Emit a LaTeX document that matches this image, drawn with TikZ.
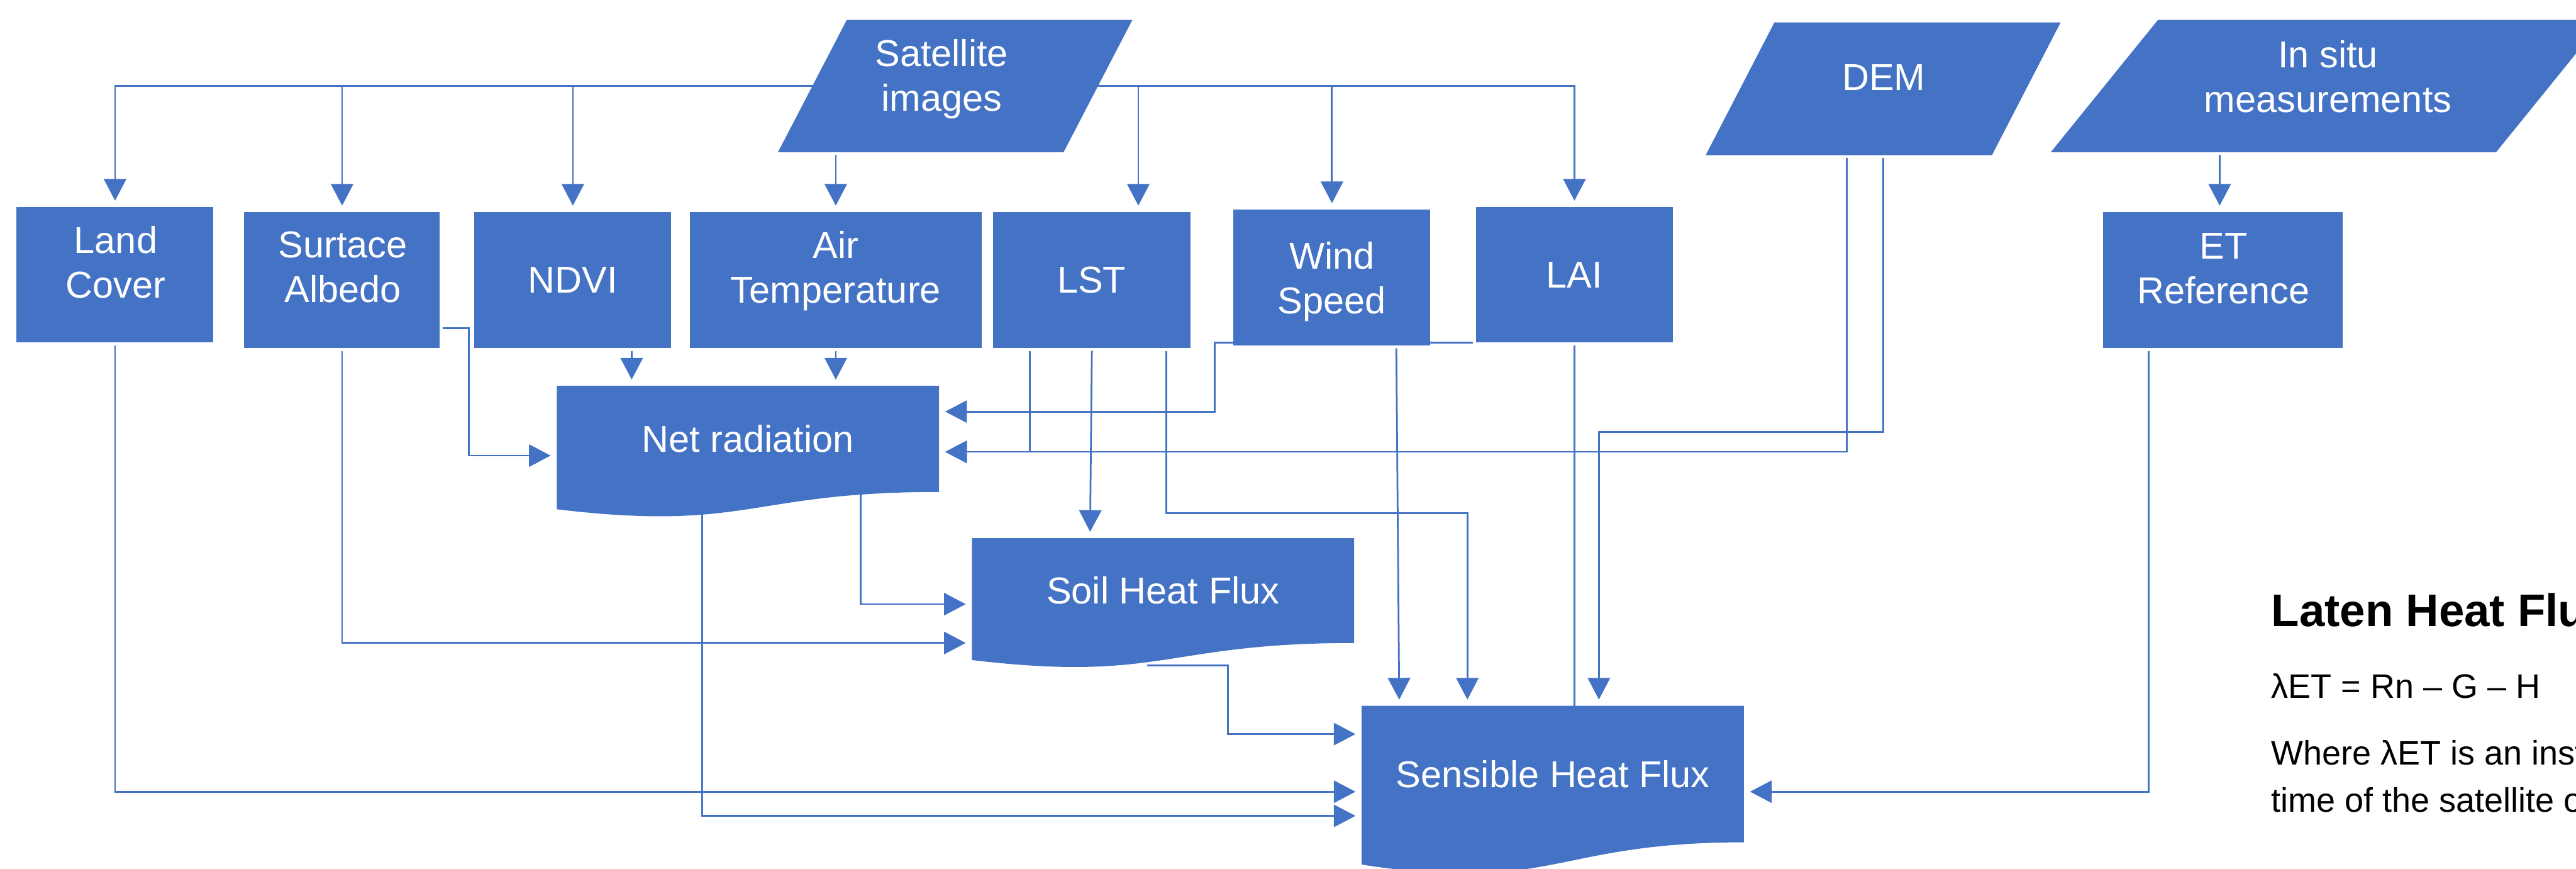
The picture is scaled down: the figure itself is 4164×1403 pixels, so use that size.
\documentclass[tikz,border=0pt]{standalone}
\usepackage{fontspec}
\setmainfont{Liberation Sans}
\usetikzlibrary{arrows.meta,calc}
\definecolor{obl}{HTML}{4472C4}
\newcommand{\boxfont}{\fontsize{17.2}{20.5}\selectfont}
\newcommand{\bodyfont}{\fontsize{15.6}{21.6}\selectfont}
\newcommand{\titlefont}{\bfseries\fontsize{21}{25}\selectfont}
\pgfdeclarelayer{bg}
\pgfdeclarelayer{shp}
\pgfsetlayers{bg,shp,main}
\begin{document}
\begin{tikzpicture}[x=0.01cm,y=-0.01cm,
  box/.style={fill=obl, draw=none, inner sep=0, text=white, font=\boxfont, align=center},
  ghost/.style={draw=none, fill=none, inner sep=0, text=white, font=\boxfont, align=center},
  lbl/.style={inner sep=0, text=white, font=\boxfont, align=center},
  conn/.style={draw=obl, line width=0.028cm, -{Triangle[length=0.35cm,width=0.36cm]}, shorten >=0.1cm, shorten <=0.04cm},
  plain/.style={draw=obl, line width=0.028cm, shorten <=0.04cm},
  body/.style={inner sep=0, anchor=base west, font=\bodyfont, text=black}]
\useasboundingbox (0,0) rectangle (4164,1403);
\clip (0,0) rectangle (4164,1403);

% ---------- rectangles ----------
\node[box, minimum width=3.18cm, minimum height=2.18cm] (lc) at (186,444) {};
\node[lbl] (lc-t) at (187,423.5) {Land\\Cover};
\node[box, minimum width=3.16cm, minimum height=2.19cm] (sa) at (553,452.5) {};
\node[lbl] (sa-t) at (554,431.5) {Surtace\\Albedo};
\node[box, minimum width=3.18cm, minimum height=2.19cm] (ndvi) at (926,452.5) {NDVI};
\node[box, minimum width=4.72cm, minimum height=2.19cm] (airt) at (1351,452.5) {};
\node[lbl] (airt-t) at (1351,437.75) {Air\\Temperature};
\node[box, minimum width=3.19cm, minimum height=2.19cm] (lst) at (1764.5,452.5) {LST};
\node[box, minimum width=3.18cm, minimum height=2.19cm] (ws) at (2153,448.5) {};
\node[lbl] (ws-t) at (2153,454.75) {Wind\\Speed};
\node[box, minimum width=3.18cm, minimum height=2.18cm] (lai) at (2545,444) {LAI};
\node[box, minimum width=3.87cm, minimum height=2.19cm] (etr) at (3593.5,452.5) {};
\node[lbl] (etr-t) at (3594,433.5) {ET\\Reference};

% ---------- parallelograms (input data) ----------
\node[ghost, minimum width=4.60cm, minimum height=2.12cm] (sat) at (1544,139) {};
\node[lbl] (sat-t) at (1522,127.75) {Satellite\\images};
\node[ghost, minimum width=4.61cm, minimum height=2.13cm] (dem) at (3044,143.5) {};
\node[lbl] (dem-t) at (3045,125.5) {DEM};
\node[ghost, minimum width=7.18cm, minimum height=2.12cm] (ins) at (3761.5,139) {};
\node[lbl] (ins-t) at (3763,123.5) {In situ\\measurements};

% ---------- document shapes ----------
\node[ghost, minimum width=6.16cm, minimum height=1.70cm] (nr) at (1209,709) {Net radiation};
\node[ghost, minimum width=6.16cm, minimum height=1.68cm] (soil) at (1880,954) {Soil Heat Flux};
\node[ghost, minimum width=6.16cm, minimum height=2.19cm] (sh) at (2510,1250.5) {Sensible Heat Flux};

\begin{pgfonlayer}{shp}
\clip (0,0) rectangle (4164,1403);
\fill[obl] ([xshift=0.555cm]sat.north west) -- ([xshift=0.555cm]sat.north east)
  -- ([xshift=-0.555cm]sat.south east) -- ([xshift=-0.555cm]sat.south west) -- cycle;
\fill[obl] ([xshift=0.555cm]dem.north west) -- ([xshift=0.555cm]dem.north east)
  -- ([xshift=-0.555cm]dem.south east) -- ([xshift=-0.555cm]dem.south west) -- cycle;
\fill[obl] ([xshift=0.865cm]ins.north west) -- ([xshift=0.865cm]ins.north east)
  -- ([xshift=-0.865cm]ins.south east) -- ([xshift=-0.865cm]ins.south west) -- cycle;
\fill[obl] (nr.north west) -- (nr.north east) -- (nr.south east)
  .. controls (nr.south) and ([yshift=-0.648cm]nr.south) .. ([yshift=-0.28cm]nr.south west) -- cycle;
\fill[obl] (soil.north west) -- (soil.north east) -- (soil.south east)
  .. controls (soil.south) and ([yshift=-0.64cm]soil.south) .. ([yshift=-0.276cm]soil.south west) -- cycle;
\fill[obl] (sh.north west) -- (sh.north east) -- (sh.south east)
  .. controls (sh.south) and ([yshift=-0.834cm]sh.south) .. ([yshift=-0.36cm]sh.south west) -- cycle;
\end{pgfonlayer}

% ---------- connectors ----------
\begin{pgfonlayer}{bg}
\coordinate (lstin) at ([xshift=0.755cm]lst.north);
\coordinate (etin)  at ([xshift=-0.055cm]etr.north);
\coordinate (shw0) at ([yshift=0.645cm]sh.west);
\coordinate (shw1) at ([yshift=-0.285cm]sh.west);
\coordinate (shw2) at ([yshift=-0.675cm]sh.west);
\coordinate (she)  at ([yshift=-0.285cm]sh.east);
\coordinate (shn0) at ([xshift=-2.48cm]sh.north);
\coordinate (shn1) at ([xshift=-1.38cm]sh.north);
\coordinate (shn2) at ([xshift=0.745cm]sh.north);
\coordinate (nrb1) at ([xshift=-0.74cm]nr.south);
\coordinate (nrb2) at ([xshift=1.82cm]nr.south);
\coordinate (nrw)  at ([yshift=-0.27cm]nr.west);
\coordinate (nre1) at ([yshift=0.44cm]nr.east);
\coordinate (nre2) at ([yshift=-0.21cm]nr.east);
\coordinate (sae)  at ([yshift=-0.775cm]sa.east);
\coordinate (ndvib) at ([xshift=0.95cm]ndvi.south);
\coordinate (lstb1) at ([xshift=-0.995cm]lst.south);
\coordinate (lstb2) at ([xshift=0.005cm]lst.south);
\coordinate (lstb3) at ([xshift=1.205cm]lst.south);
\coordinate (soiln) at ([xshift=-1.18cm]soil.north);
\coordinate (soilw1) at ([yshift=-0.22cm]soil.west);
\coordinate (soilb) at ([xshift=-0.30cm,yshift=-0.36cm]soil.south);
\coordinate (wsb)  at ([xshift=1.04cm]ws.south);
\coordinate (wsx)  at ([xshift=-0.30cm]ws.west);
\coordinate (demb1) at ([xshift=-0.59cm]dem.south);
\coordinate (etb)  at ([xshift=-1.205cm]etr.south);

% satellite images distribution
\draw[conn] (sat.center) -| (lc.north);
\draw[conn] (sat.center) -| (sa.north);
\draw[conn] (sat.center) -| (ndvi.north);
\draw[conn] (airt.north |- sat.south) -- (airt.north);
\draw[conn] (sat.center) -| (lstin);
\draw[conn] (sat.center) -| (ws.north);
\draw[conn] (sat.center) -| (lai.north);
% in situ
\draw[conn] (etin |- ins.south) -- (etin);
% net radiation inputs
\draw[conn] (sae) -- ++(46,0) |- (nrw);
\draw[conn] (ndvib) -- (ndvib |- nr.north);
\draw[conn] (airt.south) -- (airt.south |- nr.north);
\draw[conn] (lai.south west) -- (wsx |- lai.south west) |- (nre1);
\draw[conn] (lstb1) |- (nre2);
\draw[conn] (demb1) |- (nre2);
% soil heat flux inputs
\draw[conn] (lstb2) -- (soiln);
\draw[conn] (nrb2) |- (soilw1);
\draw[conn] (sa.south) |- (soil.south west);
% sensible heat flux inputs
\draw[conn] (wsb) -- (shn0);
\draw[conn] (lstb3) -- ++(0,266) -| (shn1);
\draw[plain] (lai.south) -- (lai.south |- sh.north);
\draw[conn] (dem.south) -- ++(0,447) -| (shn2);
\draw[conn] (soilb) -- ++(135,0) |- (shw0);
\draw[conn] (lc.south) |- (shw1);
\draw[conn] (nrb1) |- (shw2);
\draw[conn] (etb) |- (she);
\end{pgfonlayer}

% ---------- text on the right ----------
\node[body, font=\titlefont] (ttl) at (3671,1012) {Laten Heat Flux};
\node[body] (eq) at (3671,1128) {λET = Rn – G – H};
\node[body] (wh1) at (3671,1236) {Where λET is an instantaneous};
\node[body] (wh2) at (3671,1312) {time of the satellite overpass};
\end{tikzpicture}
\end{document}
